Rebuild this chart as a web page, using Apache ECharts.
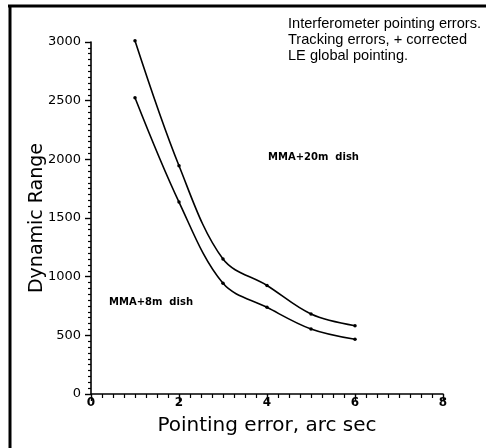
<!DOCTYPE html>
<html>
<head>
<meta charset="utf-8">
<script src="https://cdn.jsdelivr.net/npm/echarts@6/dist/echarts.min.js"></script>
<style>
  html, body { margin: 0; padding: 0; background: #fff; }
  #chart { width: 486px; height: 448px; }
</style>
</head>
<body>
<div id="chart"></div>
<script>
// pointing error (arc sec)
const pointingErr = [1, 2, 3, 4, 5, 6];
// dynamic range, MMA + 20m dish (upper curve)
const dish20m = [3010, 1945, 1150, 925, 682, 582];
// dynamic range, MMA + 8m dish (lower curve)
const dish8m = [2525, 1636, 943, 739, 554, 466];

const noteLines = [
  'Interferometer pointing errors.',
  'Tracking errors, + corrected',
  'LE global pointing.'
];

const chart = echarts.init(document.getElementById('chart'));

const toPairs = (xs, ys) => xs.map((x, i) => [x, ys[i]]);
const fontFam = '"DejaVu Sans", sans-serif';

const lineSeries = (name, data) => ({
  name: name,
  type: 'line',
  data: toPairs(pointingErr, data),
  smooth: 0.35,
  clip: false,
  symbol: 'circle',
  symbolSize: 3.5,
  itemStyle: { color: '#000' },
  lineStyle: { color: '#000', width: 1.6 }
});

const option = {
  animation: false,
  grid: { left: 91, right: 43, top: 42, bottom: 54 },
  xAxis: {
    type: 'value',
    min: 0, max: 8, interval: 2,
    name: 'Pointing error, arc sec',
    nameLocation: 'middle',
    nameGap: 22,
    nameTextStyle: { fontFamily: fontFam, fontSize: 20, color: '#000' },
    axisLine: { lineStyle: { color: '#000', width: 1.6 } },
    axisTick: { length: 7, lineStyle: { color: '#000', width: 1.4 } },
    minorTick: { show: true, splitNumber: 8, length: 4, lineStyle: { color: '#000', width: 1.2 } },
    axisLabel: { fontFamily: fontFam, fontSize: 12, fontWeight: 'bold', color: '#000', margin: 3 },
    splitLine: { show: false }
  },
  yAxis: {
    type: 'value',
    min: 0, max: 3000, interval: 500,
    name: 'Dynamic Range',
    nameLocation: 'middle',
    nameGap: 44,
    nameMoveOverlap: false,
    nameTextStyle: { fontFamily: fontFam, fontSize: 19, color: '#000' },
    axisLine: { show: true, lineStyle: { color: '#000', width: 1.6 } },
    axisTick: { show: true, length: 6, lineStyle: { color: '#000', width: 1.4 } },
    minorTick: { show: true, splitNumber: 10, length: 3, lineStyle: { color: '#000', width: 1.2 } },
    axisLabel: { fontFamily: fontFam, fontSize: 13, color: '#000', margin: 10, formatter: v => String(v) },
    splitLine: { show: false }
  },
  graphic: [
    // thick frame on top and left side
    { type: 'line', shape: { x1: 8, y1: 6, x2: 486, y2: 6 }, style: { stroke: '#000', lineWidth: 3 } },
    { type: 'line', shape: { x1: 10, y1: 5, x2: 10, y2: 448 }, style: { stroke: '#000', lineWidth: 3 } },
    {
      type: 'text', left: 288, top: 16,
      style: {
        text: noteLines.join('\n'),
        font: '14.6px "Liberation Sans", sans-serif',
        lineHeight: 16,
        fill: '#000'
      }
    },
    { type: 'text', left: 268, top: 152, style: { text: 'MMA+20m  dish', font: 'bold 10px ' + fontFam, fill: '#000' } },
    { type: 'text', left: 109, top: 297, style: { text: 'MMA+8m  dish', font: 'bold 10px ' + fontFam, fill: '#000' } }
  ],
  series: [
    lineSeries('MMA+20m dish', dish20m),
    lineSeries('MMA+8m dish', dish8m)
  ]
};

chart.setOption(option);
</script>
</body>
</html>
